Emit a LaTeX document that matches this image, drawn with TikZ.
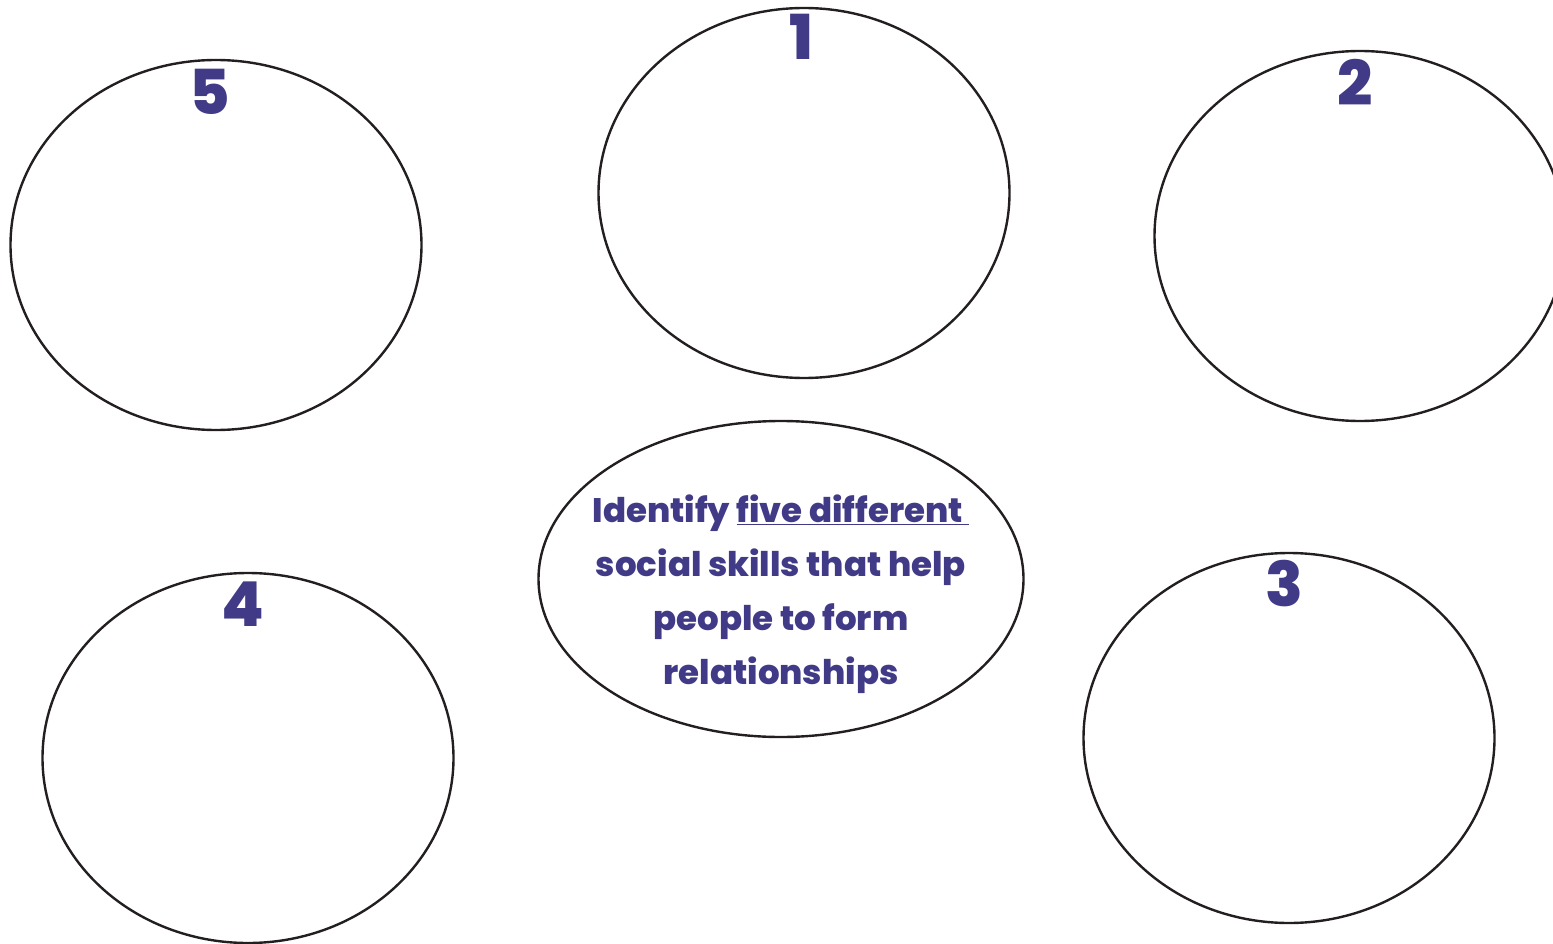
\documentclass[tikz,border=0pt]{standalone}
\usepackage{fontspec}
\setmainfont{Poppins}[BoldFont={Poppins ExtraBold}]
\usetikzlibrary{shapes.geometric}
\definecolor{ink}{HTML}{403A87}
\definecolor{rim}{HTML}{231F20}
\begin{document}
\begin{tikzpicture}[x=1pt,y=-1pt,
  bubble/.style={ellipse,draw=rim,line width=2.4pt,minimum width=411pt,minimum height=370pt,inner sep=0pt},
  num/.style={text=ink,font=\bfseries\fontsize{62}{62}\selectfont,inner sep=0pt,anchor=center}]
\useasboundingbox (0,0) rectangle (1553,944);
% answer bubbles
\node[bubble] (b1) at (804,193) {};
\node[bubble] (b2) at (1360,236) {};
\node[bubble] (b3) at (1289,738) {};
\node[bubble] (b4) at (248,758) {};
\node[bubble] (b5) at (216,245) {};
% numbers near the top of each bubble
\node[num] (n1) at (801,37) {1};
\node[num] (n2) at (1355,82) {2};
\node[num] (n3) at (1284,584) {3};
\node[num] (n4) at (243,604) {4};
\node[num] (n5) at (210,92) {5};
% central question
\node[ellipse,draw=rim,line width=2.4pt,minimum width=485pt,minimum height=316pt,inner sep=0pt] (q) at (781,579) {};
\node[text=ink,font=\bfseries\fontsize{34}{54}\selectfont,align=center,inner sep=0pt] (qt) at (781,594)
  {Identify \underline{five different\ }\\social skills that help\\people to form\\relationships};
\end{tikzpicture}
\end{document}
